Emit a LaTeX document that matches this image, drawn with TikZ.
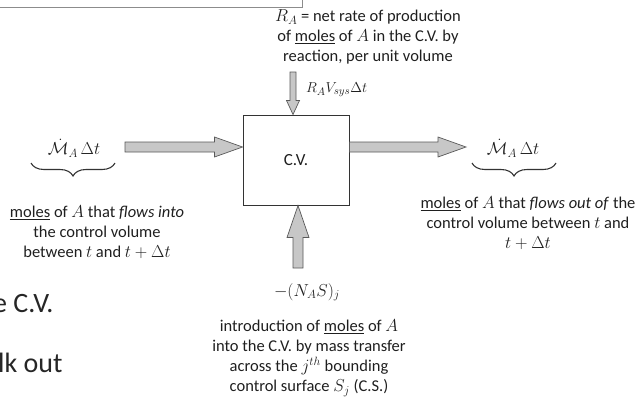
\documentclass[tikz,border=0pt]{standalone}
\usepackage{fontspec}
\setmainfont{Carlito}
\usetikzlibrary{calc,decorations.pathreplacing}

\tikzset{
  % fat grey arrow: #1 shaft half width, #2 head half width, #3 head length
  fatarrow/.style n args={3}{draw=black!65, fill=black!22, line width=0.7pt, line join=miter,
    to path={($(\tikztostart)!#1!90:(\tikztotarget)$)
      -- ($(\tikztotarget)!#3!(\tikztostart)!#1!90:(\tikztotarget)$)
      -- ($(\tikztotarget)!#3!(\tikztostart)!#2!90:(\tikztotarget)$)
      -- (\tikztotarget)
      -- ($(\tikztotarget)!#3!(\tikztostart)!#2!-90:(\tikztotarget)$)
      -- ($(\tikztotarget)!#3!(\tikztostart)!#1!-90:(\tikztotarget)$)
      -- ($(\tikztostart)!#1!-90:(\tikztotarget)$) -- cycle}},
  txt/.style={align=center, text=black!88, font=\fontsize{16.5}{20}\selectfont, inner sep=0pt},
  mth/.style={text=black!88, font=\fontsize{17}{17}\selectfont, inner sep=0pt},
  slide/.style={anchor=base west, text=black!85, font=\fontsize{28}{28}\selectfont, inner sep=0pt},
  brc/.style={decorate, decoration={brace, mirror, amplitude=13pt}, draw=black!80, line width=1.1pt}
}

\begin{document}
\begin{tikzpicture}[x=1pt, y=-1pt]
  \useasboundingbox (0,0) rectangle (637,399);
  % piece of the slide around the picture
  \draw[black!45, line width=1pt] (0,7) -- (302,7) -- (302,-2);
  \node[slide] (cut1) at (-7,312) {e C.V.};
  \node[slide] (cut2) at (-2,372) {lk out};

  % control volume
  \node[draw=black!80, line width=1pt, minimum width=106pt, minimum height=90pt,
        font=\fontsize{17}{17}\selectfont, text=black!88] (cv) at (296,160) {C.V.};

  % reaction
  \node[txt] (rtxt) at (368,37) {$R_A$ = net rate of production\\of \underline{moles} of $A$ in the C.V. by\\reaction, per unit volume};
  \coordinate (rin) at (293,72);
  \draw[fatarrow={3pt}{6.5pt}{14pt}] (rin) to (rin |- cv.north);
  \node[mth, anchor=west, font=\fontsize{15.5}{15.5}\selectfont] (rlab) at (306,90) {$R_A V_{sys}\Delta t$};

  % inflow
  \coordinate (lin) at (125,147);
  \draw[fatarrow={5pt}{10pt}{28pt}] (lin) to (lin -| cv.west);
  \node[mth] (lhs) at (74,148) {$\dot{\mathcal{M}}_A\,\Delta t$};
  \draw[brc] (31,163) -- (115,163);
  \node[txt] (ltxt) at (97,232) {\underline{moles} of $A$ that \emph{flows into}\\the control volume\\between $t$ and $t+\Delta t$};

  % outflow
  \coordinate (lout) at (466,147);
  \draw[fatarrow={5pt}{10pt}{28pt}] (lout -| cv.east) to (lout);
  \node[mth] (rhs) at (513,148) {$\dot{\mathcal{M}}_A\,\Delta t$};
  \draw[brc] (472,163) -- (556,163);
  \node[txt] (rtxt2) at (528,223) {\underline{moles} of $A$ that \emph{flows out of} the\\control volume between $t$ and\\$t+\Delta t$};

  % mass transfer
  \coordinate (bin) at (298,268);
  \draw[fatarrow={5pt}{11pt}{32pt}] (bin) to (bin |- cv.south);
  \node[mth] (nlab) at (307,292) {$-(N_A S)_j$};
  \node[txt] (btxt) at (309,358) {introduction of \underline{moles} of $A$\\into the C.V. by mass transfer\\across the $j^{th}$ bounding\\control surface $S_j$ (C.S.)};
\end{tikzpicture}
\end{document}
